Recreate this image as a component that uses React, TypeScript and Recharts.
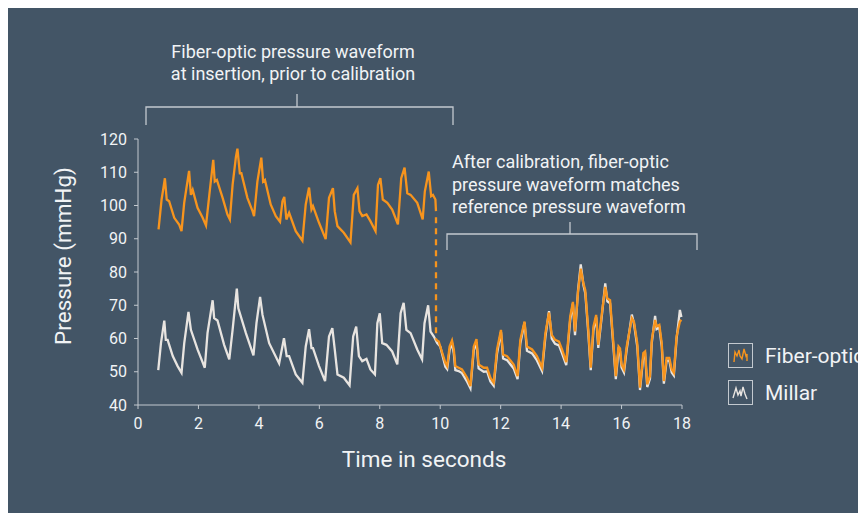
import { LineChart, Line, XAxis, YAxis } from "recharts";

// [time in s, pressure in mmHg]
const fiberBefore: [number, number][] = [
  [0.68, 92.8], [0.78, 101.8], [0.84, 105.2], [0.89, 108.2], [0.95, 101.8], [1.03, 101.3],
  [1.2, 96.3], [1.36, 94.3], [1.44, 92.3], [1.53, 100.9], [1.69, 110.4], [1.75, 103.2],
  [1.81, 104.7], [1.97, 99.3], [2.14, 96.3], [2.25, 94], [2.36, 103.2], [2.49, 113.7],
  [2.54, 107.2], [2.61, 107.7], [2.8, 102.3], [2.96, 97.3], [3.04, 95.8], [3.13, 106.2],
  [3.24, 114.6], [3.29, 117.1], [3.37, 109.7], [3.42, 109.7], [3.62, 102.3], [3.79, 98.3],
  [3.84, 96.8], [3.95, 107.2], [4.08, 114.4], [4.14, 107.2], [4.2, 107.7], [4.39, 100.3],
  [4.56, 96.8], [4.7, 95.1], [4.78, 101.3], [4.84, 102.6], [4.91, 95.8], [5.0, 97.8],
  [5.22, 92.3], [5.44, 89.4], [5.55, 100.3], [5.66, 105.4], [5.74, 98.8], [5.79, 99.8],
  [5.99, 94.8], [6.21, 89.9], [6.32, 102.3], [6.45, 105.2], [6.51, 98.3], [6.6, 93.8],
  [6.81, 91.8], [7.03, 88.9], [7.14, 103.2], [7.26, 105.2], [7.33, 98.3], [7.42, 96.8],
  [7.56, 97.3], [7.69, 95.3], [7.86, 92.3], [7.94, 106.2], [8.02, 108.2], [8.1, 101.8],
  [8.25, 100.8], [8.41, 98.8], [8.6, 94.3], [8.71, 108.2], [8.82, 111.4], [8.91, 103.7],
  [9.02, 103.2], [9.24, 100.8], [9.42, 95.8], [9.49, 104.2], [9.62, 110.2], [9.7, 102.8],
  [9.76, 103.2], [9.84, 101.8], [9.86, 98.3],
];

const fiberJump: [number, number][] = [[9.86, 96.5], [9.86, 59.6]];

const fiberAfter: [number, number][] = [
  [9.86, 59.6], [9.95, 59.1], [10.17, 52.7], [10.23, 51.7], [10.31, 57.6], [10.39, 59.4],
  [10.45, 56.7], [10.5, 51.7], [10.61, 51.2], [10.72, 50.7], [10.89, 48.2], [11.0, 45.7],
  [11.11, 57.6], [11.2, 59.8], [11.27, 52.2], [11.44, 51.2], [11.55, 51.2], [11.66, 48.2],
  [11.77, 46.7], [11.88, 56.7], [12.01, 62.6], [12.08, 55.2], [12.21, 54.7], [12.43, 52.2],
  [12.56, 48.7], [12.65, 59.6], [12.79, 65.1], [12.87, 57.6], [13.04, 56.7], [13.2, 54.7],
  [13.37, 51.2], [13.48, 61.6], [13.6, 67.8], [13.69, 61.1], [13.8, 59.6], [13.93, 59.1],
  [14.03, 56.7], [14.17, 52.9], [14.3, 66.6], [14.39, 71.0], [14.46, 62.1], [14.56, 74],
  [14.65, 81.0], [14.74, 76.5], [14.8, 74.5], [14.9, 62.6], [14.98, 51.2], [15.07, 63.6],
  [15.16, 67.1], [15.23, 58.1], [15.35, 67.6], [15.46, 75.5], [15.53, 72.0], [15.62, 71.5],
  [15.73, 58.6], [15.81, 48.7], [15.9, 57.6], [15.95, 57], [16.0, 52.2], [16.08, 50.7],
  [16.17, 57.6], [16.34, 66.1], [16.41, 65.1], [16.52, 58.6], [16.61, 45.2], [16.72, 55.6],
  [16.78, 56.1], [16.85, 46.2], [16.94, 48.7], [17.0, 59.6], [17.11, 65.6], [17.16, 63.6],
  [17.25, 64.1], [17.33, 58.6], [17.4, 47.2], [17.49, 54.2], [17.58, 54.2], [17.66, 50.7],
  [17.73, 49.7], [17.82, 60.6], [17.93, 65.1], [17.98, 65.6],
];

const millar: [number, number][] = [
  [0.67, 50.5], [0.76, 58.6], [0.87, 65.4], [0.92, 59.6], [0.98, 59.6], [1.15, 54.7],
  [1.31, 51.7], [1.44, 49.7], [1.53, 58.6], [1.67, 68.0], [1.75, 62.6], [1.97, 56.7],
  [2.21, 51.2], [2.3, 61.6], [2.47, 71.5], [2.52, 66.1], [2.63, 65.4], [2.85, 58.1],
  [3.02, 53.7], [3.13, 62.6], [3.27, 75.0], [3.32, 69.1], [3.57, 61.6], [3.82, 54.9],
  [3.92, 64.6], [4.04, 72.5], [4.12, 67.1], [4.34, 58.6], [4.67, 52.5], [4.83, 60.1],
  [4.92, 54.7], [5.0, 54.7], [5.22, 49.2], [5.44, 46.7], [5.55, 57.6], [5.66, 62.8],
  [5.74, 57.1], [5.79, 57.1], [5.99, 51.7], [6.19, 47.2], [6.32, 60.6], [6.43, 63.1],
  [6.51, 56.7], [6.6, 49.2], [6.81, 48.2], [7.0, 45.9], [7.12, 60.6], [7.22, 63.6],
  [7.31, 54.7], [7.42, 53.2], [7.56, 53.9], [7.69, 50.7], [7.84, 49.2], [7.92, 64.6],
  [8.0, 67.6], [8.08, 58.6], [8.22, 58.1], [8.41, 56.1], [8.58, 52.2], [8.69, 67.6],
  [8.79, 70.7], [8.88, 62.6], [9.02, 61.6], [9.24, 56.7], [9.4, 53.7], [9.48, 64.6],
  [9.6, 70.0], [9.68, 62.1], [9.79, 60.6], [9.9, 58.6], [10.0, 57.6], [10.17, 51.5],
  [10.23, 50.8], [10.31, 56.5], [10.39, 58.6], [10.45, 55.5], [10.5, 50.5], [10.61, 50.2],
  [10.72, 49.6], [10.89, 47.0], [11.0, 45.0], [11.11, 56.4], [11.2, 58.9], [11.27, 51.0],
  [11.44, 50.0], [11.55, 50.1], [11.66, 47.1], [11.77, 45.8], [11.88, 55.5], [12.01, 62.0],
  [12.08, 54.0], [12.21, 53.5], [12.43, 51.0], [12.56, 47.8], [12.65, 58.5], [12.79, 64.8],
  [12.87, 56.3], [13.04, 55.5], [13.2, 53.4], [13.37, 50.2], [13.48, 60.5], [13.6, 68.2],
  [13.69, 60.0], [13.8, 58.4], [13.93, 57.9], [14.03, 55.5], [14.17, 52.0], [14.3, 65.5],
  [14.39, 70.5], [14.46, 61.0], [14.56, 74.5], [14.65, 82.3], [14.74, 76.0], [14.8, 73.6],
  [14.9, 61.5], [14.98, 50.5], [15.07, 62.5], [15.16, 66.4], [15.23, 57.2], [15.35, 67.0],
  [15.46, 76.6], [15.53, 71.2], [15.62, 70.6], [15.73, 57.5], [15.81, 47.8], [15.9, 56.6],
  [15.95, 56.1], [16.0, 51.3], [16.08, 49.8], [16.17, 56.7], [16.34, 67.2], [16.41, 64.5],
  [16.52, 57.6], [16.61, 44.5], [16.72, 54.6], [16.78, 55.2], [16.85, 45.4], [16.94, 47.9],
  [17.0, 58.7], [17.11, 66.8], [17.16, 62.8], [17.25, 63.3], [17.33, 57.6], [17.4, 46.4],
  [17.49, 53.3], [17.58, 53.4], [17.66, 49.8], [17.73, 48.9], [17.82, 59.8], [17.93, 68.6],
  [17.98, 66.5],
];

const xTicks = [0, 2, 4, 6, 8, 10, 12, 14, 16, 18];
const yTicks = [40, 50, 60, 70, 80, 90, 100, 110, 120];
const seriesNames = ["Fiber-optic", "Millar"];

const W = 858;
const H = 505;
const BG = "#435566";
const ORANGE = "#f7941d";
const WHITE = "#e8e4e0";
const AXIS = "#c3c9cf";
const TEXT = "#f1f3f5";

const toRows = (pts: [number, number][]) => pts.map(([t, v]) => ({ t, v }));

function LegendBox({ kind }: { kind: number }) {
  const pts =
    kind === 0
      ? "6,19 7,9 9,13 11,7 12,13 14,16 16,6 18,13 19,11 19,18"
      : "5,18 8,8 10,15 12,11 13,16 15,7 17,14 19,19";
  return (
    <svg width={25} height={25} style={{ display: "block" }}>
      <rect x={0.5} y={0.5} width={24} height={24} fill="none" stroke={AXIS} strokeWidth={1} />
      <polyline points={pts} fill="none" stroke={kind === 0 ? ORANGE : WHITE} strokeWidth={1.4} />
    </svg>
  );
}

export default function App() {
  return (
    <div
      style={{
        position: "relative",
        width: W,
        height: H,
        background: BG,
        fontFamily: "Roboto, sans-serif",
        overflow: "hidden",
      }}
    >
      <LineChart width={W} height={H} margin={{ top: 131, right: 184, bottom: 0, left: 0 }}>
        <XAxis
          type="number"
          dataKey="t"
          domain={[0, 18]}
          ticks={xTicks}
          height={108}
          tickSize={4}
          tickMargin={9}
          stroke={AXIS}
          tick={{ fill: TEXT, fontSize: 16 }}
          label={{ value: "Time in seconds", position: "insideBottom", offset: 46, dx: 14, fill: TEXT, fontSize: 22.5 }}
        />
        <YAxis
          type="number"
          dataKey="v"
          domain={[40, 120]}
          ticks={yTicks}
          width={130}
          tickSize={4}
          tickMargin={7}
          stroke={AXIS}
          tick={{ fill: TEXT, fontSize: 16 }}
          label={{
            value: "Pressure (mmHg)",
            angle: -90,
            position: "insideLeft",
            offset: 55,
            dy: -16,
            fill: TEXT,
            fontSize: 22.5,
            style: { textAnchor: "middle" },
          }}
        />
        <Line data={toRows(millar)} dataKey="v" stroke={WHITE} strokeWidth={2.3} dot={false} isAnimationActive={false} />
        <Line data={toRows(fiberBefore)} dataKey="v" stroke={ORANGE} strokeWidth={2.3} dot={false} isAnimationActive={false} />
        <Line
          data={toRows(fiberJump)}
          dataKey="v"
          stroke={ORANGE}
          strokeWidth={2.3}
          strokeDasharray="6 5"
          dot={false}
          isAnimationActive={false}
        />
        <Line data={toRows(fiberAfter)} dataKey="v" stroke={ORANGE} strokeWidth={2.3} dot={false} isAnimationActive={false} />
      </LineChart>

      <svg width={W} height={H} style={{ position: "absolute", left: 0, top: 0, pointerEvents: "none" }}>
        <path d="M138,117 V99 H445 V117 M289,99 V86" fill="none" stroke={AXIS} strokeWidth={1.3} />
        <path d="M439,242 V226 H689 V242 M562,226 V214" fill="none" stroke={AXIS} strokeWidth={1.3} />
      </svg>

      <div style={{ position: "absolute", left: 720, top: 335 }}>
        {seriesNames.map((name, i) => (
          <div key={name} style={{ display: "flex", alignItems: "center", height: 25, marginBottom: 12 }}>
            <LegendBox kind={i} />
            <span style={{ marginLeft: 12, fontSize: 21, color: TEXT, whiteSpace: "nowrap" }}>{name}</span>
          </div>
        ))}
      </div>

      <div
        style={{
          position: "absolute",
          left: 135,
          top: 33,
          width: 300,
          textAlign: "center",
          fontSize: 18,
          lineHeight: "22px",
          color: TEXT,
        }}
      >
        Fiber-optic pressure waveform
        <br />
        at insertion, prior to calibration
      </div>
      <div
        style={{
          position: "absolute",
          left: 444,
          top: 143,
          fontSize: 18,
          lineHeight: "22.5px",
          color: TEXT,
          whiteSpace: "nowrap",
        }}
      >
        After calibration, fiber-optic
        <br />
        pressure waveform matches
        <br />
        reference pressure waveform
      </div>
    </div>
  );
}
